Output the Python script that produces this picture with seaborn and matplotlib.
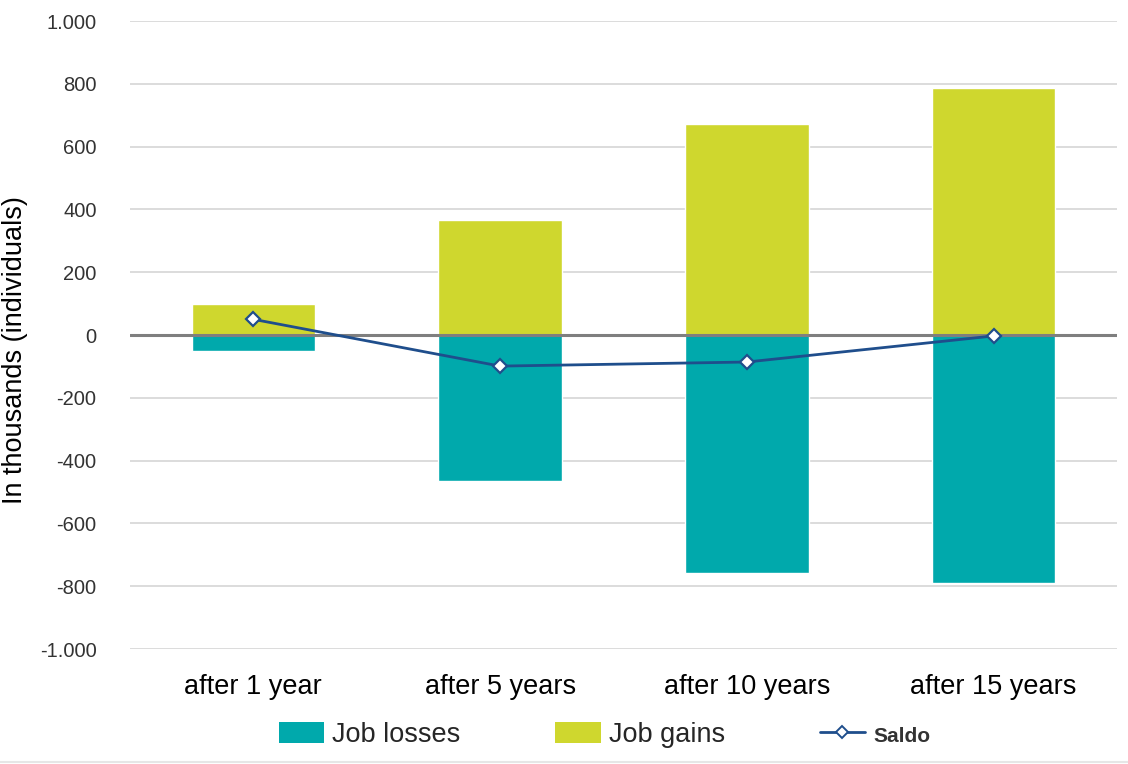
import matplotlib
matplotlib.use("Agg")
import matplotlib.pyplot as plt
from matplotlib.lines import Line2D
from matplotlib.patches import Patch
from matplotlib.ticker import FuncFormatter
import seaborn as sns
import pandas as pd

categories = ["after 1 year", "after 5 years", "after 10 years", "after 15 years"]
job_losses = [-50, -465, -758, -790]
job_gains = [100, 366, 672, 787]
saldo = [50, -99, -86, -3]

C_LOSS = "#00A9AC"
C_GAIN = "#CFD72E"
C_SALDO = "#1F4E8C"

sns.set_theme(style="white")
plt.rcParams["font.family"] = ["Liberation Sans", "DejaVu Sans"]

df = pd.DataFrame({"cat": categories, "loss": job_losses,
                   "gain": job_gains, "saldo": saldo})

fig = plt.figure(figsize=(11.28, 7.64), dpi=100)
ax = fig.add_axes([0.1152, 0.1505, 0.875, 0.822])

sns.barplot(data=df, x="cat", y="loss", color=C_LOSS, width=0.5,
            saturation=1, ax=ax, zorder=2)
sns.barplot(data=df, x="cat", y="gain", color=C_GAIN, width=0.5,
            saturation=1, ax=ax, zorder=2)
ax.axhline(0, color="#7F7F7F", lw=2.2, zorder=3)
ax.plot(range(len(categories)), df["saldo"], color=C_SALDO, lw=2,
        marker="D", ms=7, mfc="white", mec=C_SALDO, mew=1.6, zorder=4)

ax.set_xlim(-0.5, 3.5)
ax.set_ylim(-1000, 1000)
ax.set_yticks(range(-1000, 1001, 200))
ax.yaxis.set_major_formatter(
    FuncFormatter(lambda v, _: f"{int(v):,}".replace(",", ".")))
ax.grid(axis="y", color="#D9D9D9", lw=1.3, zorder=0)
ax.set_axisbelow(True)
for s in ax.spines.values():
    s.set_visible(False)

ax.tick_params(axis="y", length=0, pad=24, labelsize=14.5, labelcolor="#333333")
ax.tick_params(axis="x", length=0, pad=18, labelsize=19.5, labelcolor="black")
ax.set_xlabel("")
ax.set_ylabel("In thousands (individuals)", fontsize=19.5, color="black",
              va="center")
ax.yaxis.set_label_coords(-0.1165, 0.476)

handles = [
    Patch(facecolor=C_LOSS, edgecolor="none"),
    Patch(facecolor=C_GAIN, edgecolor="none"),
    Line2D([0], [0], color=C_SALDO, lw=2, marker="D", ms=6,
           mfc="white", mec=C_SALDO, mew=1.4),
]
leg = fig.legend(handles, ["Job losses", "Job gains", "Saldo"], ncol=3,
                 loc="center", bbox_to_anchor=(0.536, 0.038), frameon=False,
                 fontsize=19.5, columnspacing=3.5, handlelength=1.67,
                 handleheight=0.8, handletextpad=0.3)
leg.get_texts()[2].set_fontsize(15)
leg.get_texts()[2].set_color("#333333")
leg.get_texts()[2].set_fontweight("bold")

fig.add_artist(Line2D([0, 1], [0.003, 0.003], color="#E6E6E6", lw=1.5,
                      transform=fig.transFigure))

fig.savefig("out.png", dpi=100)
